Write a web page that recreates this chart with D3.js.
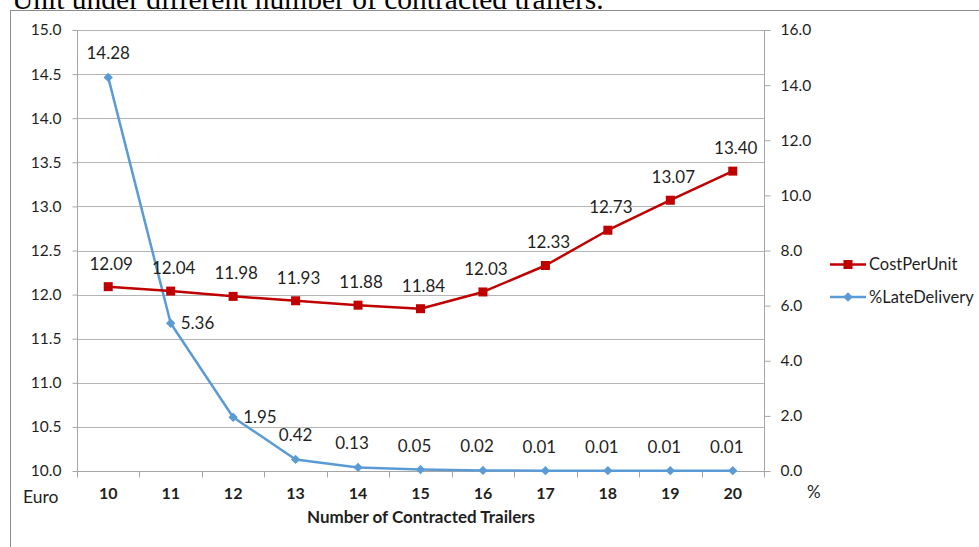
<!DOCTYPE html>
<html>
<head>
<meta charset="utf-8">
<script src="https://cdn.jsdelivr.net/npm/d3@7/dist/d3.min.js"></script>
<style>
  html, body { margin: 0; padding: 0; background: #fff; }
  svg { display: block; }
</style>
</head>
<body>
<svg id="chart" width="979" height="547"></svg>
<script>
// Number of contracted trailers (x categories)
const trailers = ["10", "11", "12", "13", "14", "15", "16", "17", "18", "19", "20"];
// Cost per unit in Euro (left axis)
const costPerUnit = [12.09, 12.04, 11.98, 11.93, 11.88, 11.84, 12.03, 12.33, 12.73, 13.07, 13.40];
// Share of late deliveries in % (right axis)
const lateDelivery = [14.28, 5.36, 1.95, 0.42, 0.13, 0.05, 0.02, 0.01, 0.01, 0.01, 0.01];
// Axis tick values
const leftTicks = [10.0, 10.5, 11.0, 11.5, 12.0, 12.5, 13.0, 13.5, 14.0, 14.5, 15.0];
const rightTicks = [0, 2, 4, 6, 8, 10, 12, 14, 16];
const seriesNames = ["CostPerUnit", "%LateDelivery"];

(function () {
const svg = d3.select("#chart");
const W = 979, H = 547;
const plotL = 77, plotR = 764, plotT = 30, plotB = 471;

const font = "Lato, 'Open Sans', sans-serif";
const red = "#C00000", blue = "#5B9BD5";
const gridColor = "#b4b4b4", axisColor = "#a6a6a6", textColor = "#1f1f1f";

// caption line of the surrounding document, running into the top edge
svg.append("text")
  .attr("x", 12).attr("y", 9)
  .attr("font-family", "'Liberation Serif', 'Times New Roman', serif")
  .attr("font-size", 29.5)
  .attr("fill", "#000")
  .text("Unit under different number of contracted trailers.");

// chart frame
svg.append("rect")
  .attr("x", 10.5).attr("y", 10.5)
  .attr("width", W + 20).attr("height", H + 20)
  .attr("fill", "none").attr("stroke", "#8c8c8c").attr("stroke-width", 1);

const x = d3.scaleBand().domain(trailers).range([plotL, plotR]).padding(0);
const yL = d3.scaleLinear().domain([10, 15]).range([plotB, plotT]);
const yR = d3.scaleLinear().domain([0, 16]).range([plotB, plotT]);
const cx = d => x(d) + x.bandwidth() / 2;

// horizontal gridlines
svg.append("g").selectAll("line")
  .data(leftTicks.filter(t => t > 10))
  .join("line")
  .attr("x1", plotL).attr("x2", plotR)
  .attr("y1", d => Math.round(yL(d)) + 0.5).attr("y2", d => Math.round(yL(d)) + 0.5)
  .attr("stroke", gridColor).attr("stroke-width", 1);

// left axis
const gL = svg.append("g")
  .attr("transform", `translate(${plotL + 0.5},0)`)
  .call(d3.axisLeft(yL).tickValues(leftTicks).tickFormat(d3.format(".1f")).tickSize(5).tickPadding(11));
// right axis
const gR = svg.append("g")
  .attr("transform", `translate(${plotR + 0.5},0)`)
  .call(d3.axisRight(yR).tickValues(rightTicks).tickFormat(d3.format(".1f")).tickSize(6).tickPadding(10));
// bottom axis with ticks between categories
const gB = svg.append("g")
  .attr("transform", `translate(0,${plotB + 0.5})`)
  .call(d3.axisBottom(x).tickSize(0).tickPadding(16));
gB.selectAll(".tick text").attr("font-weight", "bold").attr("font-size", 16);
gB.selectAll(".boundary")
  .data(trailers.map(t => x(t)).concat([plotR]))
  .join("line")
  .attr("class", "boundary")
  .attr("x1", d => Math.round(d) + 0.5).attr("x2", d => Math.round(d) + 0.5)
  .attr("y1", 0).attr("y2", 6)
  .attr("stroke", axisColor);

[gL, gR, gB].forEach(g => {
  g.selectAll(".domain").attr("stroke", axisColor).attr("stroke-width", 1);
  g.selectAll(".tick line").attr("stroke", axisColor);
  g.selectAll(".tick text").attr("fill", textColor).attr("font-family", font);
});
gL.selectAll(".tick text").attr("font-size", 15.5);
gR.selectAll(".tick text").attr("font-size", 15.5);
gL.select(".domain").attr("d", `M0,${plotT}V${plotB + 6}`);
gR.select(".domain").attr("d", `M0,${plotT}V${plotB + 6}`);
gB.select(".domain").attr("d", `M${plotL},0H${plotR}`);

// axis units and title
svg.append("text").attr("x", 23).attr("y", 503)
  .attr("font-family", font).attr("font-size", 17.5).attr("fill", textColor).text("Euro");
svg.append("text").attr("x", 807).attr("y", 498)
  .attr("font-family", font).attr("font-size", 17).attr("fill", textColor).text("%");
svg.append("text").attr("x", 421).attr("y", 523)
  .attr("text-anchor", "middle")
  .attr("font-family", font).attr("font-size", 17).attr("font-weight", "bold")
  .attr("fill", textColor).text("Number of Contracted Trailers");

// late delivery series (right axis)
const lateLine = d3.line().x((d, i) => cx(trailers[i])).y(d => yR(d));
svg.append("path").datum(lateDelivery)
  .attr("d", lateLine).attr("fill", "none")
  .attr("stroke", blue).attr("stroke-width", 2.5).attr("stroke-linejoin", "round");
const diamond = d3.symbol().type(d3.symbolDiamond2).size(55);
svg.append("g").selectAll("path")
  .data(lateDelivery)
  .join("path")
  .attr("d", diamond)
  .attr("transform", (d, i) => `translate(${cx(trailers[i])},${yR(d)})`)
  .attr("fill", blue);

// cost series (left axis)
const costLine = d3.line().x((d, i) => cx(trailers[i])).y(d => yL(d));
svg.append("path").datum(costPerUnit)
  .attr("d", costLine).attr("fill", "none")
  .attr("stroke", red).attr("stroke-width", 2.5).attr("stroke-linejoin", "round");
svg.append("g").selectAll("rect")
  .data(costPerUnit)
  .join("rect")
  .attr("x", (d, i) => cx(trailers[i]) - 4.5)
  .attr("y", d => yL(d) - 4.5)
  .attr("width", 9).attr("height", 9)
  .attr("fill", red);

// value labels
svg.append("g").selectAll("text")
  .data(costPerUnit)
  .join("text")
  .attr("x", (d, i) => cx(trailers[i]) + 3)
  .attr("y", d => yL(d) - 17)
  .attr("text-anchor", "middle")
  .attr("font-family", font).attr("font-size", 17).attr("fill", textColor)
  .text(d => d.toFixed(2));

// steep points get their label beside the marker, the rest sit above it
const besidePoint = (d, i) => i > 0 && d > 1;
svg.append("g").selectAll("text")
  .data(lateDelivery)
  .join("text")
  .attr("x", (d, i) => besidePoint(d, i) ? cx(trailers[i]) + 10 : cx(trailers[i]) - (i > 3 ? 6 : 0))
  .attr("y", (d, i) => besidePoint(d, i) ? yR(d) + 6 : yR(d) - 18)
  .attr("text-anchor", (d, i) => besidePoint(d, i) ? "start" : "middle")
  .attr("font-family", font).attr("font-size", 17).attr("fill", textColor)
  .text(d => d.toFixed(2));

// legend
const legend = svg.append("g");
const legendRows = [
  { name: seriesNames[0], color: red, shape: "square" },
  { name: seriesNames[1], color: blue, shape: "diamond" }
];
legendRows.forEach((r, i) => {
  const ly = 264.5 + i * 32.5;
  legend.append("line").attr("x1", 830).attr("x2", 866).attr("y1", ly).attr("y2", ly)
    .attr("stroke", r.color).attr("stroke-width", 2.5);
  if (r.shape === "square") {
    legend.append("rect").attr("x", 848 - 4.5).attr("y", ly - 4.5)
      .attr("width", 9).attr("height", 9).attr("fill", r.color);
  } else {
    legend.append("path").attr("d", diamond).attr("transform", `translate(848,${ly})`)
      .attr("fill", r.color);
  }
  legend.append("text").attr("x", 869).attr("y", ly + 5.5)
    .attr("font-family", font).attr("font-size", 16.5).attr("fill", textColor)
    .text(r.name);
});
})();
</script>
</body>
</html>
